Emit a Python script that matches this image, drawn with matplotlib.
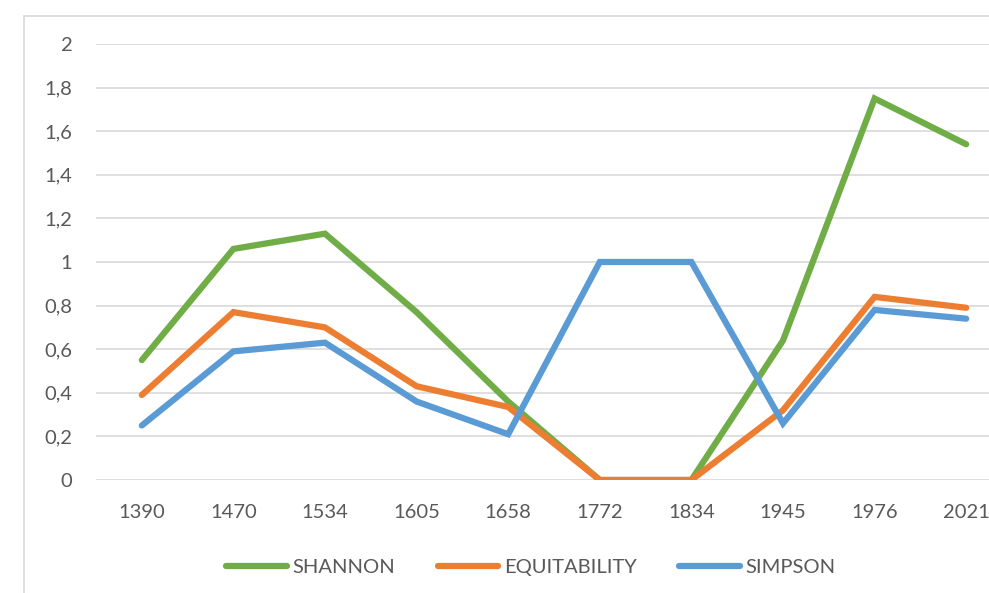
import matplotlib.pyplot as plt
from matplotlib.patches import Rectangle
from matplotlib.ticker import FuncFormatter

years = ['1390', '1470', '1534', '1605', '1658', '1772', '1834', '1945', '1976', '2021']
shannon = [0.55, 1.06, 1.13, 0.77, 0.36, 0, 0, 0.64, 1.75, 1.54]
equitability = [0.39, 0.77, 0.70, 0.43, 0.335, 0, 0, 0.32, 0.84, 0.79]
simpson = [0.25, 0.59, 0.63, 0.36, 0.21, 1, 1, 0.26, 0.78, 0.74]

plt.rcParams['font.family'] = ['Lato', 'DejaVu Sans']

fig = plt.figure(figsize=(9.89, 5.93), dpi=100)
# light chart frame (cut off at right/bottom like the source)
fig.patches.append(Rectangle((24 / 989, -0.1), 1.2, 1 - 16 / 593 + 0.1, transform=fig.transFigure,
                             fill=False, edgecolor='#d9d9d9', linewidth=1.2))

ax = fig.add_axes([96 / 989, 1 - 480 / 593, 916 / 989, 436 / 593])
x = list(range(len(years)))
ax.plot(x, shannon, color='#70AD47', lw=4.5, label='SHANNON', solid_capstyle='round', solid_joinstyle='miter', zorder=3)
ax.plot(x, equitability, color='#ED7D31', lw=4.5, label='EQUITABILITY', solid_capstyle='round', solid_joinstyle='miter', zorder=3)
ax.plot(x, simpson, color='#5B9BD5', lw=4.5, label='SIMPSON', solid_capstyle='round', solid_joinstyle='miter', zorder=3)

ax.set_xlim(-0.5, len(years) - 0.5)
ax.set_ylim(0, 2)
ax.set_yticks([0, 0.2, 0.4, 0.6, 0.8, 1, 1.2, 1.4, 1.6, 1.8, 2])
ax.yaxis.set_major_formatter(FuncFormatter(lambda v, p: ('%g' % round(v, 1)).replace('.', ',')))
ax.set_xticks(x)
ax.set_xticklabels(years)
ax.grid(axis='y', color='#d9d9d9', lw=1.2, zorder=0)
for s in ax.spines.values():
    s.set_visible(False)
ax.tick_params(axis='both', length=0, colors='#595959', labelsize=14.5)
ax.tick_params(axis='y', pad=17)
ax.tick_params(axis='x', pad=17)
ax.set_clip_on(False)

fig.legend(loc='center', bbox_to_anchor=(531 / 989, 1 - 567 / 593), ncol=3, frameon=False,
           fontsize=14.5, handlelength=3.0, columnspacing=2.1, handletextpad=0.3, labelcolor='#595959')

fig.savefig('out.png', dpi=100)
